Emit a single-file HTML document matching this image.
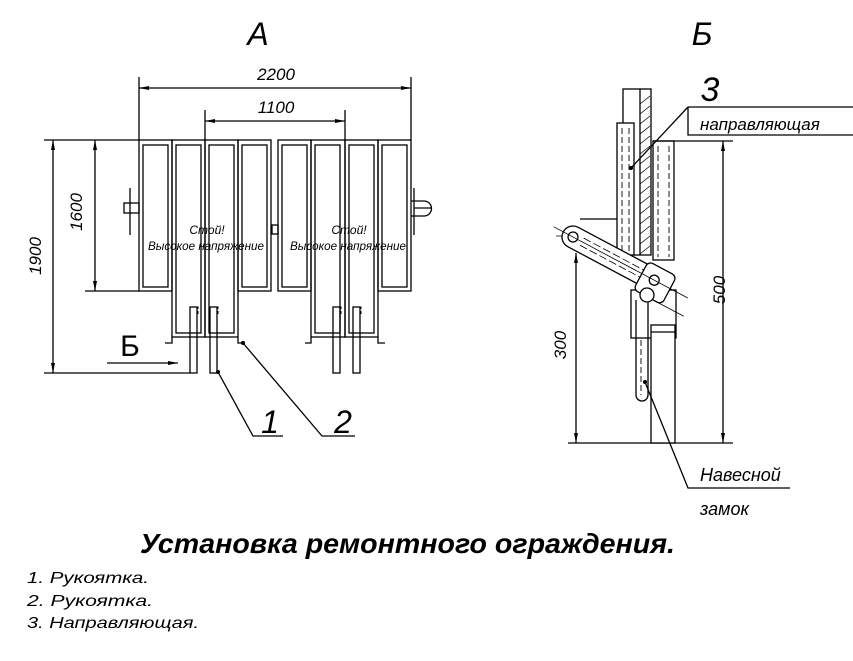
<!DOCTYPE html>
<html><head><meta charset="utf-8"><style>body{margin:0;background:#fff}svg{display:block}</style></head>
<body>
<svg width="853" height="661" viewBox="0 0 853 661" xmlns="http://www.w3.org/2000/svg" font-family="Liberation Sans, DejaVu Sans, sans-serif" font-style="italic">
<defs>
<marker id="a" viewBox="0 0 10 4" refX="10" refY="2" markerWidth="12" markerHeight="4" orient="auto-start-reverse" markerUnits="userSpaceOnUse"><path d="M0,0L10,2L0,4z" fill="#000"/></marker>
</defs>
<g stroke="#000" fill="none" stroke-width="1.3">
<!-- left view dims -->
<line x1="139" y1="77" x2="139" y2="140"/><line x1="411" y1="77" x2="411" y2="140"/>
<line x1="139" y1="88" x2="411" y2="88" marker-start="url(#a)" marker-end="url(#a)"/>
<line x1="205" y1="110" x2="205" y2="140"/><line x1="345" y1="110" x2="345" y2="140"/>
<line x1="205" y1="121" x2="345" y2="121" marker-start="url(#a)" marker-end="url(#a)"/>
<line x1="44" y1="140" x2="139" y2="140"/><line x1="85" y1="291" x2="139" y2="291"/>
<line x1="44" y1="373" x2="190" y2="373"/>
<line x1="53" y1="140" x2="53" y2="373" marker-start="url(#a)" marker-end="url(#a)"/>
<line x1="95" y1="140" x2="95" y2="291" marker-start="url(#a)" marker-end="url(#a)"/>
<!-- panels -->
<rect x="139" y="140" width="33" height="151"/><rect x="143" y="145" width="25" height="142"/>
<rect x="172" y="140" width="33" height="197"/><rect x="176" y="145" width="25" height="188"/>
<rect x="205" y="140" width="33" height="197"/><rect x="209" y="145" width="25" height="188"/>
<rect x="238" y="140" width="33" height="151"/><rect x="242" y="145" width="25" height="142"/>
<rect x="278" y="140" width="33" height="151"/><rect x="282" y="145" width="25" height="142"/>
<rect x="311" y="140" width="34" height="197"/><rect x="315" y="145" width="25" height="188"/>
<rect x="345" y="140" width="33" height="197"/><rect x="349" y="145" width="25" height="188"/>
<rect x="378" y="140" width="33" height="151"/><rect x="382" y="145" width="25" height="142"/>
<path d="M172 337V343H165M238 337V343H245M311 337V343H305M378 337V343H385"/>
<rect x="272" y="225" width="6" height="9"/>
<!-- handles -->
<rect x="190" y="307" width="7" height="66"/><rect x="210" y="307" width="7" height="66"/>
<rect x="333" y="307" width="7" height="66"/><rect x="353" y="307" width="7" height="66"/>
<g stroke-dasharray="3 2" stroke-width="1"><path d="M190 315V307H198V315M210 315V307H218V315M333 315V307H341V315M353 315V307H361V315"/></g>
<!-- pins -->
<rect x="124" y="203" width="15" height="10"/><line x1="130" y1="188" x2="130" y2="235"/>
<path d="M411 201H424A7.5 7.5 0 0 1 424 216H411"/><line x1="414" y1="208" x2="432" y2="208"/><line x1="414" y1="188" x2="414" y2="235"/>
<!-- Б arrow -->
<line x1="107" y1="363" x2="178" y2="363" marker-end="url(#a)"/>
<!-- leaders -->
<path d="M218 372L253 436H283M243 343L322 436H355"/>
</g>
<circle cx="218" cy="372" r="2"/><circle cx="243" cy="343" r="2"/>
<g font-size="12" text-anchor="middle">
<text x="207" y="234">Стой!</text><text x="206" y="250" textLength="116" lengthAdjust="spacingAndGlyphs">Высокое напряжение</text>
<text x="349" y="234">Стой!</text><text x="348" y="250" textLength="116" lengthAdjust="spacingAndGlyphs">Высокое напряжение</text>
</g>
<g font-size="17" text-anchor="middle">
<text x="276" y="80">2200</text><text x="276" y="113">1100</text>
<text x="41" y="256" transform="rotate(-90 41 256)">1900</text>
<text x="82" y="212" transform="rotate(-90 82 212)">1600</text>
</g>
<text x="130" y="356" font-size="30" font-style="normal" text-anchor="middle">Б</text>
<text x="270" y="433" font-size="32" text-anchor="middle">1</text>
<text x="343" y="433" font-size="32" text-anchor="middle">2</text>
<text x="258" y="45" font-size="32" text-anchor="middle">А</text>
<text x="702" y="45" font-size="32" text-anchor="middle">Б</text>
<!-- right view -->
<g stroke="#000" fill="none" stroke-width="1.3">
<rect x="623" y="89" width="28" height="166"/><line x1="640" y1="89" x2="640" y2="255"/>
<g stroke-width="0.8"><path d="M640 104L650 96M640 114L650 106M640 124L650 116M640 134L650 126M640 144L650 136M640 154L650 146M640 164L650 156M640 174L650 166M640 184L650 176M640 194L650 186M640 204L650 196M640 214L650 206M640 224L650 216M640 234L650 226M640 244L650 236M640 254L650 246"/></g>
<rect x="617" y="123" width="17" height="132" fill="#fff"/>
<g stroke-dasharray="6 3" stroke-width="0.9"><line x1="622" y1="128" x2="622" y2="252"/><line x1="629" y1="128" x2="629" y2="252"/><line x1="658" y1="146" x2="658" y2="257"/><line x1="669" y1="146" x2="669" y2="257"/><line x1="656" y1="330" x2="656" y2="440"/><line x1="670" y1="330" x2="670" y2="440"/><line x1="641" y1="340" x2="641" y2="395"/></g>
<rect x="653" y="141" width="21" height="119"/>
<path d="M580 219H617"/>
<path d="M688 107H853M688 107V135H853"/>
<path d="M631 168L688 107"/>
<line x1="653" y1="141" x2="733" y2="141"/>
<line x1="568" y1="443" x2="733" y2="443"/>
<line x1="723" y1="141" x2="723" y2="443" marker-start="url(#a)" marker-end="url(#a)"/>
<line x1="576" y1="253" x2="576" y2="443" marker-start="url(#a)" marker-end="url(#a)"/>
<line x1="556" y1="236" x2="590" y2="236" stroke-width="0.8"/>
<!-- lower parts -->
<rect x="631" y="290" width="45" height="48" fill="#fff"/>
<path d="M636 300V395A6 6 0 0 0 648 395V300"/>
<rect x="651" y="325" width="24" height="118" fill="#fff"/>
<line x1="651" y1="332" x2="675" y2="332"/>
<path d="M645 382L688 488H790"/>
<!-- arm -->
<g transform="translate(573 237) rotate(28)">
<path d="M0 -11H100V11H0A11 11 0 0 1 0 -11Z" fill="#fff"/>
<g stroke-dasharray="8 3" stroke-width="0.8"><line x1="10" y1="-4" x2="90" y2="-4"/><line x1="10" y1="4" x2="90" y2="4"/></g>
<rect x="78" y="-14" width="32" height="32" rx="5" fill="#fff"/>
<circle cx="0" cy="0" r="5"/><circle cx="92" cy="0" r="5"/>
<line x1="-22" y1="0" x2="130" y2="0" stroke-width="0.8"/>
<line x1="100" y1="18" x2="135" y2="18" stroke-width="0.8"/>
</g>
<circle cx="647" cy="295" r="7" fill="#fff"/>
</g>
<circle cx="631" cy="168" r="2"/><circle cx="645" cy="382" r="2"/>
<text x="710" y="101" font-size="34" text-anchor="middle">3</text>
<text x="700" y="130" font-size="17">направляющая</text>
<text x="710" y="305" font-size="17" text-anchor="middle" transform="rotate(-90 710 290)">500</text>
<text x="566" y="345" font-size="17" text-anchor="middle" transform="rotate(-90 566 345)">300</text>
<text x="700" y="481" font-size="18">Навесной</text>
<text x="700" y="515" font-size="18">замок</text>
<!-- title -->
<text x="140" y="553" font-size="28" font-weight="bold" textLength="535" lengthAdjust="spacingAndGlyphs">Установка ремонтного ограждения.</text>
<g font-size="16">
<text x="27" y="583" textLength="122" lengthAdjust="spacingAndGlyphs">1.  Рукоятка.</text>
<text x="27" y="606" textLength="126" lengthAdjust="spacingAndGlyphs">2.  Рукоятка.</text>
<text x="27" y="628" textLength="172" lengthAdjust="spacingAndGlyphs">3.  Направляющая.</text>
</g>
</svg>
</body></html>
